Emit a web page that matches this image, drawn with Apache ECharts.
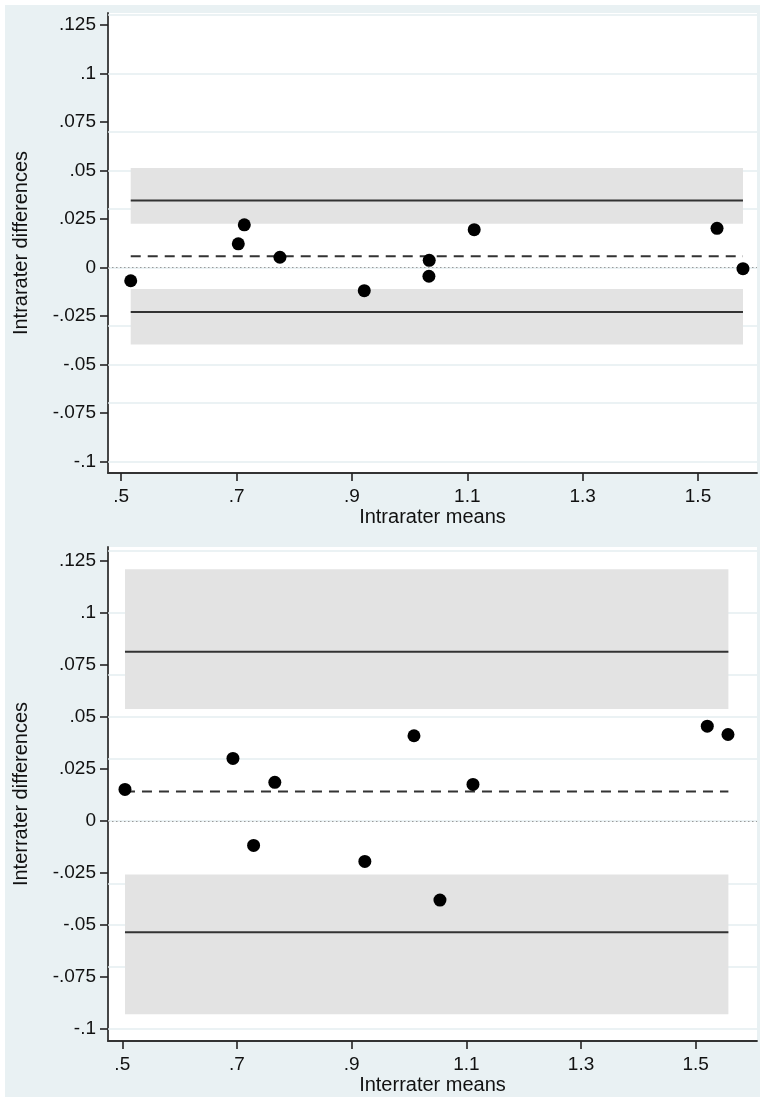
<!DOCTYPE html>
<html>
<head>
<meta charset="utf-8">
<script src="https://cdn.jsdelivr.net/npm/echarts@6/dist/echarts.min.js"></script>
<style>
  html, body { margin: 0; padding: 0; background: #ffffff; }
  #chart { width: 760px; height: 1097px; }
</style>
</head>
<body>
<div id="chart"></div>
<script>
// ---- Data ----
// Panel 1: intrarater
const intraMeans = [0.5165, 0.703, 0.7134, 0.7752, 0.9214, 1.034, 1.0335, 1.112, 1.533, 1.578];
const intraDiffs = [-0.0069, 0.0121, 0.0219, 0.0052, -0.0120, 0.0036, -0.0046, 0.0194, 0.0201, -0.0007];
const intraMeanDiff = 0.0057;
const intraLoA = [-0.0230, 0.0344];
const intraUpperCI = [0.0225, 0.0512];
const intraLowerCI = [-0.0398, -0.0111];
const intraSpan = [0.5165, 1.578];

// Panel 2: interrater
const interMeans = [0.5047, 0.693, 0.729, 0.766, 0.923, 1.0087, 1.054, 1.1116, 1.5202, 1.5563];
const interDiffs = [0.0151, 0.0300, -0.0118, 0.0185, -0.0195, 0.0409, -0.0381, 0.0175, 0.0455, 0.0415];
const interMeanDiff = 0.0141;
const interLoA = [-0.0535, 0.0813];
const interUpperCI = [0.0537, 0.1209];
const interLowerCI = [-0.0929, -0.0258];
const interSpan = [0.5047, 1.557];

// Tick values and labels
const xTicks = [0.5, 0.7, 0.9, 1.1, 1.3, 1.5];
const xTickLabels = ['.5', '.7', '.9', '1.1', '1.3', '1.5'];
const yTicks = [-0.1, -0.075, -0.05, -0.025, 0, 0.025, 0.05, 0.075, 0.1, 0.125];
const yTickLabels = ['-.1', '-.075', '-.05', '-.025', '0', '.025', '.05', '.075', '.1', '.125'];

// Axis titles
const xTitles = ['Intrarater means', 'Interrater means'];
const yTitles = ['Intrarater differences', 'Interrater differences'];

// ---- Styling ----
const FONT = "'Liberation Sans', Arial, Helvetica, sans-serif";
const BG = '#e9f1f3';
const GRIDLINE = '#e4eef1';
const BAND = '#e3e3e3';
const INK = '#333333';

function lookup(v, vals, labels) {
  const i = vals.findIndex(t => Math.abs(t - v) < 1e-9);
  return i >= 0 ? labels[i] : '';
}

function xAxisCfg(idx, min, max) {
  return {
    gridIndex: idx, type: 'value', min: min, max: max,
    axisLine: { show: true, onZero: false, lineStyle: { color: INK, width: 1.8 } },
    axisTick: { show: true, length: 8, customValues: xTicks, lineStyle: { color: '#222', width: 1.6 } },
    axisLabel: { customValues: xTicks, formatter: v => lookup(v, xTicks, xTickLabels),
                 fontSize: 19, color: '#111', fontFamily: FONT, margin: 14 },
    splitLine: { show: false },
    name: xTitles[idx], nameLocation: 'middle', nameGap: 34,
    nameTextStyle: { fontSize: 20, color: '#111', fontFamily: FONT }
  };
}
function yAxisCfg(idx, min, max) {
  return {
    gridIndex: idx, type: 'value', min: min, max: max,
    axisLine: { show: true, onZero: false, lineStyle: { color: INK, width: 1.8 } },
    axisTick: { show: true, length: 8, customValues: yTicks, lineStyle: { color: '#222', width: 1.6 } },
    axisLabel: { customValues: yTicks, formatter: v => lookup(v, yTicks, yTickLabels),
                 fontSize: 19, color: '#111', fontFamily: FONT, margin: 12 },
    splitLine: { show: false },
    name: yTitles[idx], nameLocation: 'middle', nameGap: 77,
    nameTextStyle: { fontSize: 20, color: '#111', fontFamily: FONT }
  };
}

function panelSeries(idx, means, diffs, meanDiff, loa, upCI, loCI, span) {
  const ax = { xAxisIndex: idx, yAxisIndex: idx };
  return [
    // grid lines
    Object.assign({
      type: 'line', data: [], silent: true, z: 1,
      markLine: { silent: true, symbol: 'none', z: 1, animation: false,
        label: { show: false },
        lineStyle: { color: GRIDLINE, type: 'solid', width: 1.5 },
        data: yTicks.map(v => ({ yAxis: v })) }
    }, ax),
    // CI bands for limits of agreement
    Object.assign({
      type: 'line', data: [], silent: true, z: 2,
      markArea: { silent: true, z: 2, animation: false,
        itemStyle: { color: BAND },
        data: [
          [{ xAxis: span[0], yAxis: upCI[1] }, { xAxis: span[1], yAxis: upCI[0] }],
          [{ xAxis: span[0], yAxis: loCI[1] }, { xAxis: span[1], yAxis: loCI[0] }]
        ] }
    }, ax),
    // zero dotted line
    Object.assign({
      type: 'line', data: [], silent: true, z: 3,
      markLine: { silent: true, symbol: 'none', z: 3, animation: false,
        label: { show: false },
        lineStyle: { color: '#9a9a9a', type: [1.5, 2.5], width: 1.2 },
        data: [{ yAxis: 0 }] }
    }, ax),
    // upper limit
    Object.assign({
      type: 'line', z: 4, showSymbol: false, silent: true, animation: false,
      lineStyle: { color: INK, width: 2 },
      data: [[span[0], loa[1]], [span[1], loa[1]]]
    }, ax),
    // lower limit
    Object.assign({
      type: 'line', z: 4, showSymbol: false, silent: true, animation: false,
      lineStyle: { color: INK, width: 2 },
      data: [[span[0], loa[0]], [span[1], loa[0]]]
    }, ax),
    // mean difference (dashed)
    Object.assign({
      type: 'line', z: 4, showSymbol: false, silent: true, animation: false,
      lineStyle: { color: INK, width: 2, type: [10, 7] },
      data: [[span[0], meanDiff], [span[1], meanDiff]]
    }, ax),
    // points
    Object.assign({
      type: 'scatter', z: 5, symbol: 'circle', symbolSize: 13, animation: false,
      itemStyle: { color: '#000', opacity: 1 },
      data: means.map((m, i) => [m, diffs[i]])
    }, ax)
  ];
}

const chart = echarts.init(document.getElementById('chart'), null, { renderer: 'canvas' });
chart.setOption({
  backgroundColor: '#ffffff',
  animation: false,
  textStyle: { fontFamily: FONT },
  graphic: [{
    type: 'rect', z: -10, silent: true,
    shape: { x: 5, y: 5, width: 755, height: 1092 },
    style: { fill: BG }
  }],
  grid: [
    { left: 108, top: 13, width: 649, height: 460, show: true, backgroundColor: '#ffffff', borderWidth: 0 },
    { left: 108, top: 547, width: 649, height: 494, show: true, backgroundColor: '#ffffff', borderWidth: 0 }
  ],
  xAxis: [xAxisCfg(0, 0.4771, 1.6023), xAxisCfg(1, 0.4751, 1.6069)],
  yAxis: [yAxisCfg(0, -0.106, 0.1311), yAxisCfg(1, -0.1058, 0.1316)],
  series: [].concat(
    panelSeries(0, intraMeans, intraDiffs, intraMeanDiff, intraLoA, intraUpperCI, intraLowerCI, intraSpan),
    panelSeries(1, interMeans, interDiffs, interMeanDiff, interLoA, interUpperCI, interLowerCI, interSpan)
  )
});
</script>
</body>
</html>
